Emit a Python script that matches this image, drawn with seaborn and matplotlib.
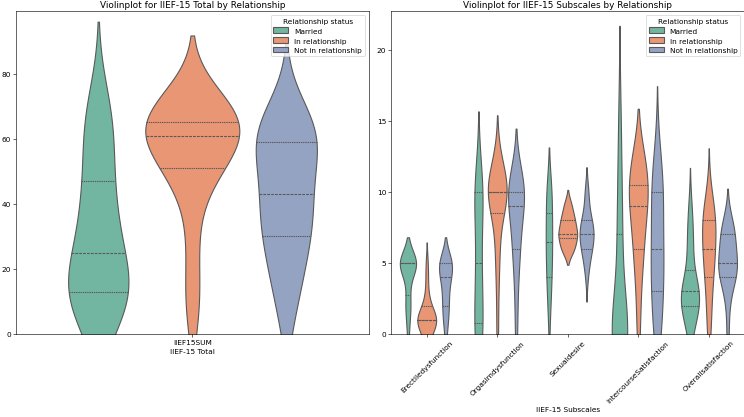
import pandas as pd
import numpy as np
import seaborn as sns
import matplotlib.pyplot as plt

# Grupos
grupos = ['Married', 'In relationship', 'Not in relationship']

# Puntaje total IIEF-15 por grupo
total_married = [5, 8, 9, 10, 10, 14, 16, 17, 19, 21, 29, 32, 36, 40, 45, 53, 58, 63, 68, 72]
total_inrel = [6, 16, 30, 44, 48, 52, 54, 56, 58, 60, 62, 63, 64, 65, 65, 66, 68, 69, 71, 72]
total_notrel = [5, 13, 19, 23, 27, 31, 34, 37, 40, 42, 44, 52, 55, 57, 58, 62, 62, 63, 66, 69]

# Subescalas
subescalas = ['Erectiledysfunction', 'Orgasimdysfunction', 'Sexualdesire',
              'IntercourseSatisfaction', 'Overallsatisfaction']

erect_married = [0, 1, 2, 2, 2, 3, 4, 5, 5, 5, 5, 5, 5, 5, 5, 5, 5, 5, 5, 5]
erect_inrel = [0, 0, 0, 0, 1, 1, 1, 1, 1, 1, 1, 1, 1, 1, 2, 2, 2, 3, 4, 5]
erect_notrel = [0, 1, 1, 2, 2, 2, 3, 3, 4, 4, 4, 4, 5, 5, 5, 5, 5, 5, 5, 5]

orgas_married = [0, 0, 0, 0, 0, 1, 2, 3, 4, 5, 5, 6, 8, 9, 10, 10, 10, 10, 10, 11]
orgas_inrel = [0, 3, 5, 6, 7, 9, 9, 10, 10, 10, 10, 10, 10, 10, 10, 10, 11, 11, 12, 12]
orgas_notrel = [0, 2, 4, 5, 6, 6, 7, 8, 8, 9, 9, 10, 10, 10, 10, 10, 10, 11, 11, 11]

desire_married = [1, 2, 3, 4, 4, 4, 5, 6, 6, 6, 7, 7, 8, 8, 8, 10, 10, 10, 10, 10]
desire_inrel = [6, 6, 6, 6, 6, 7, 7, 7, 7, 7, 7, 7, 8, 8, 8, 8, 8, 9, 9, 9]
desire_notrel = [4, 5, 5, 6, 6, 6, 6, 7, 7, 7, 7, 7, 7, 8, 8, 8, 8, 9, 10, 10]

inter_married = [0, 0, 0, 0, 0, 0, 0, 0, 0, 0, 0, 0, 3, 5, 7, 7, 9, 11, 13, 16]
inter_inrel = [0, 2, 4, 5, 6, 6, 7, 8, 9, 9, 9, 10, 10, 10, 10, 12, 12, 12, 12, 12]
inter_notrel = [0, 0, 1, 2, 3, 3, 4, 5, 5, 6, 6, 7, 8, 9, 10, 10, 10, 11, 12, 13]

overall_married = [0, 1, 1, 2, 2, 2, 2, 2, 3, 3, 3, 3, 3, 4, 4, 6, 6, 7, 8, 9]
overall_inrel = [0, 1, 2, 3, 4, 4, 5, 5, 6, 6, 6, 7, 7, 8, 8, 8, 8, 9, 9, 10]
overall_notrel = [0, 2, 3, 4, 4, 4, 4, 5, 5, 5, 5, 5, 6, 6, 7, 7, 7, 7, 8, 8]

# Armar dataframes en formato largo
filas_total = []
for g, vals in zip(grupos, [total_married, total_inrel, total_notrel]):
    for v in vals:
        filas_total.append({'Relationship': g, 'variable': 'IIEF15SUM', 'value': v})
df_total = pd.DataFrame(filas_total)

datos_sub = {
    'Erectiledysfunction': [erect_married, erect_inrel, erect_notrel],
    'Orgasimdysfunction': [orgas_married, orgas_inrel, orgas_notrel],
    'Sexualdesire': [desire_married, desire_inrel, desire_notrel],
    'IntercourseSatisfaction': [inter_married, inter_inrel, inter_notrel],
    'Overallsatisfaction': [overall_married, overall_inrel, overall_notrel],
}
filas_sub = []
for var in subescalas:
    for g, vals in zip(grupos, datos_sub[var]):
        for v in vals:
            filas_sub.append({'Relationship': g, 'variable': var, 'value': v})
df_sub = pd.DataFrame(filas_sub)

fig, axes = plt.subplots(1, 2, figsize=(14, 7.855), dpi=53.214)

# Violinplot total
sns.violinplot(data=df_total, x='variable', y='value', hue='Relationship',
               hue_order=grupos, palette='Set2', inner='quartile',
               common_norm=True, linewidth=1.5, ax=axes[0])
axes[0].set_title('Violinplot for IIEF-15 Total by Relationship')
axes[0].set_xlabel('IIEF-15 Total')
axes[0].set_ylabel('')
axes[0].set_ylim(0, 99.3)
axes[0].legend(title='Relationship status', loc='upper right')

# Violinplot subescalas (escala de area dentro de cada subescala)
for i, var in enumerate(subescalas):
    sns.violinplot(data=df_sub[df_sub['variable'] == var], x='variable', y='value',
                   hue='Relationship', order=subescalas, hue_order=grupos,
                   palette='Set2', inner='quartile', common_norm=True,
                   linewidth=1.5, legend=(i == 0), ax=axes[1])
axes[1].set_title('Violinplot for IIEF-15 Subscales by Relationship')
axes[1].set_xlabel('IIEF-15 Subscales')
axes[1].set_ylabel('')
axes[1].set_ylim(0, 22.7)
axes[1].tick_params(axis='x', rotation=45)
axes[1].legend(title='Relationship status', loc='upper right')

plt.subplots_adjust(left=0.0215, right=0.9987, top=0.971, bottom=0.1986, wspace=0.065)
plt.savefig('out.png')
